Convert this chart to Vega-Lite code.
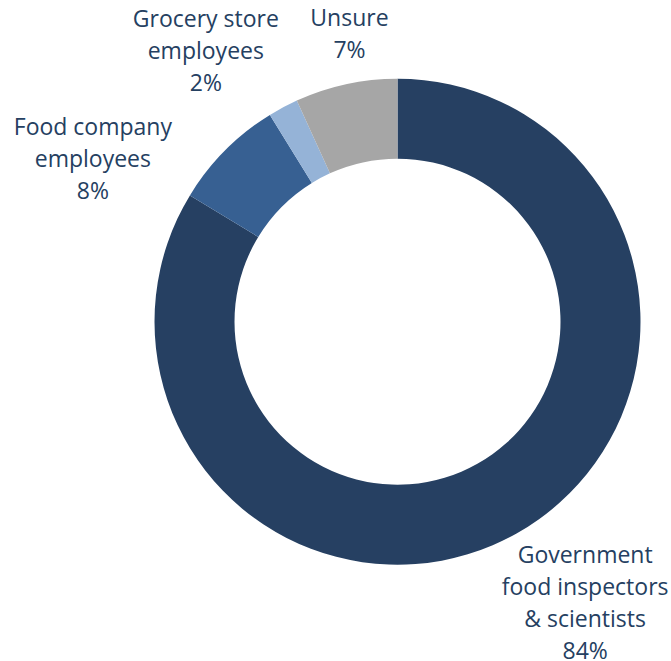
{
  "$schema": "https://vega.github.io/schema/vega-lite/v6.json",
  "autosize": {"type": "none"},
  "width": 486,
  "height": 486,
  "padding": {"left": 154.5, "top": 78.7, "right": 30.5, "bottom": 96.3},
  "background": "white",
  "view": {"stroke": null},
  "data": {
    "values": [
      {"rank": 1, "category": "Government food inspectors & scientists", "value": 83.7, "label": "Government\nfood inspectors\n& scientists\n84%"},
      {"rank": 2, "category": "Food company employees", "value": 7.5, "label": "Food company\nemployees\n8%"},
      {"rank": 3, "category": "Grocery store employees", "value": 2.0, "label": "Grocery store\nemployees\n2%"},
      {"rank": 4, "category": "Unsure", "value": 6.8, "label": "Unsure\n7%"}
    ]
  },
  "encoding": {
    "theta": {"field": "value", "type": "quantitative", "stack": true},
    "order": {"field": "rank", "type": "quantitative"}
  },
  "layer": [
    {
      "mark": {"type": "arc", "innerRadius": 163, "outerRadius": 243},
      "encoding": {
        "color": {
          "field": "category",
          "type": "nominal",
          "scale": {
            "domain": ["Government food inspectors & scientists", "Food company employees", "Grocery store employees", "Unsure"],
            "range": ["#264062", "#376092", "#95B3D7", "#A6A6A6"]
          },
          "legend": null
        }
      }
    },
    {
      "mark": {
        "type": "text",
        "radius": 335,
        "lineBreak": "\n",
        "lineHeight": 32,
        "font": "Open Sans",
        "fontSize": 23,
        "color": "#254061",
        "align": "center",
        "baseline": "middle",
        "dx": {"expr": "datum.rank == 1 ? 23.5 : datum.rank == 2 ? -67 : datum.rank == 3 ? -34 : 23"},
        "dy": {"expr": "datum.rank == 1 ? -58 : datum.rank == 2 ? 42 : datum.rank == 3 ? -6 : 25"}
      },
      "encoding": {
        "text": {"field": "label", "type": "nominal"}
      }
    }
  ]
}
